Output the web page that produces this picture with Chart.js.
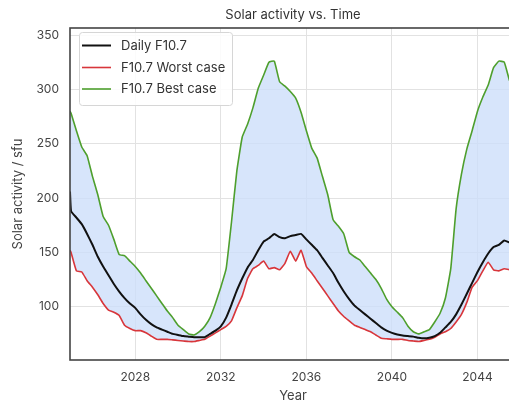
<!DOCTYPE html>
<html>
<head>
<meta charset="utf-8">
<script src="https://cdn.jsdelivr.net/npm/chart.js@4.4.1/dist/chart.umd.min.js"></script>
<style>
  html, body { margin: 0; padding: 0; background: #fff; overflow: hidden; }
  #wrap { width: 516px; height: 404px; }
</style>
</head>
<body>
<div id="wrap"><canvas id="chart" width="516" height="404"></canvas></div>
<script>
// --- Data (quarterly samples) ---
const years = [2024.95].concat(Array.from({ length: 84 }, (_, i) => 2025 + i * 0.25));

const dailyF107 = [206,
  188, 182, 176, 167,   157, 146, 137, 129,   121, 114, 108, 103,   99, 93, 88, 84,
  81, 79, 77, 75,       74, 73, 72.5, 72,     72, 72, 75, 78,       82, 90, 102, 115,
  126, 136, 143, 152,   160, 163, 167, 164,   163, 165, 166, 167,   162, 157, 152, 145,
  138, 131, 122, 114,   107, 101, 97, 93,     89, 85, 81, 78,       76, 74.5, 73.5, 73,
  72.5, 71.5, 71, 71.5, 73, 76, 81, 86,       93, 102, 112, 122,    132, 141, 149, 155,
  157, 161, 159, 158];

const worstCase = [152,
  150, 133, 132, 124,   118, 111, 103, 97,    95, 92, 83, 80,       78, 78, 76, 73,
  70, 70, 70, 69.5,     69, 68.5, 68, 68,     69, 70, 73, 76,       79, 82, 87, 99,
  110, 126, 135, 138,   142, 135, 136, 134,   140, 151, 142, 152,   137, 131, 124, 117,
  110, 103, 96, 91,     87, 83, 81, 79,       77, 74, 71, 70.5,     70, 70, 70, 69,
  68.5, 68, 69, 70,     72, 75, 77, 80,       86, 93, 104, 118,     124, 133, 141, 134,
  133, 135, 134, 133];

const bestCase = [280,
  278, 262, 247, 239,   220, 203, 183, 175,   162, 148, 147, 142,   137, 131, 124, 117,
  110, 103, 96, 90,     83, 79, 75, 74,       77, 82, 90, 103,      118, 135, 178, 225,
  256, 268, 283, 301,   313, 325, 326, 307,   303, 298, 292, 279,   262, 246, 237, 220,
  203, 180, 174, 167,   150, 146, 143, 137,   131, 125, 117, 107,   100, 95, 90, 82,
  77, 75, 77, 79,       86, 94, 108, 135,     190, 222, 245, 262,   280, 293, 304, 320,
  326, 325, 308, 300];

const xTicks = [2028, 2032, 2036, 2040, 2044];
const yTicks = [100, 150, 200, 250, 300, 350];
const seriesLabels = ['Daily F10.7', 'F10.7 Worst case', 'F10.7 Best case'];

// --- Styling ---
const FONT = 'Inter, "DejaVu Sans", sans-serif';
const colors = { daily: '#111111', worst: '#d8363b', best: '#4e9f2d', band: 'rgba(205,222,250,0.8)' };
const toPoints = (vals) => vals.map((v, i) => ({ x: years[i], y: v }));

// title, frame and legend box drawn by hand
const decorations = {
  id: 'decorations',
  afterDatasetsDraw(chart) {
    const { ctx, chartArea: a } = chart;
    ctx.save();
    ctx.strokeStyle = '#444';
    ctx.lineWidth = 1.6;
    ctx.strokeRect(a.left, a.top, a.right - a.left, a.bottom - a.top);

    // legend
    ctx.fillStyle = 'rgba(255,255,255,0.85)';
    ctx.strokeStyle = '#d6d6d6';
    ctx.lineWidth = 1;
    ctx.beginPath();
    ctx.roundRect(79.5, 32.5, 153, 73, 3);
    ctx.fill();
    ctx.stroke();
    const rows = [[colors.daily, 45.5], [colors.worst, 67.5], [colors.best, 89]];
    ctx.font = '13px ' + FONT;
    ctx.textBaseline = 'middle';
    rows.forEach(([c, y], i) => {
      ctx.strokeStyle = c;
      ctx.lineWidth = i === 0 ? 2 : 1.6;
      ctx.beginPath();
      ctx.moveTo(82, y);
      ctx.lineTo(111, y);
      ctx.stroke();
      ctx.fillStyle = '#333';
      ctx.fillText(seriesLabels[i], 121, y + 0.5);
    });
    ctx.restore();
  },
  afterDraw(chart) {
    const { ctx, chartArea: a } = chart;
    ctx.save();
    ctx.font = '13px ' + FONT;
    ctx.fillStyle = '#333';
    ctx.textAlign = 'center';
    ctx.textBaseline = 'middle';
    ctx.fillText('Solar activity vs. Time', (a.left + a.right) / 2, 15);
    ctx.restore();
  }
};

new Chart(document.getElementById('chart'), {
  type: 'line',
  data: {
    datasets: [
      { label: seriesLabels[0], data: toPoints(dailyF107), borderColor: colors.daily, borderWidth: 2, fill: false },
      { label: seriesLabels[1], data: toPoints(worstCase), borderColor: colors.worst, borderWidth: 1.6, fill: false },
      { label: seriesLabels[2], data: toPoints(bestCase), borderColor: colors.best, borderWidth: 1.6,
        fill: { target: 1 }, backgroundColor: colors.band }
    ]
  },
  options: {
    responsive: false,
    animation: false,
    layout: { padding: { top: 28, right: 0, left: 0, bottom: 0 } },
    elements: { point: { radius: 0 }, line: { tension: 0.12, borderJoinStyle: 'round' } },
    plugins: { legend: { display: false }, tooltip: { enabled: false }, title: { display: false } },
    scales: {
      x: {
        type: 'linear', min: 2024.95, max: 2045.8,
        afterFit: (s) => { s.height = 44; },
        afterBuildTicks: (s) => { s.ticks = xTicks.map(v => ({ value: v })); },
        grid: { color: '#e2e2e2', drawTicks: false },
        border: { display: false },
        ticks: { color: '#444', font: { family: FONT, size: 12 }, padding: 10, callback: (v) => String(v) },
        title: { display: true, text: 'Year', color: '#444', font: { family: FONT, size: 13 }, padding: { top: 0, bottom: 0 } }
      },
      y: {
        min: 51, max: 356.5,
        afterFit: (s) => { s.width = 70; },
        afterBuildTicks: (s) => { s.ticks = yTicks.map(v => ({ value: v })); },
        grid: { color: '#e2e2e2', drawTicks: false },
        border: { display: false },
        ticks: { color: '#444', font: { family: FONT, size: 12 }, padding: 11 },
        title: { display: true, text: 'Solar activity / sfu', color: '#444', font: { family: FONT, size: 13 }, padding: { top: 10, bottom: 0 } }
      }
    }
  },
  plugins: [decorations]
});
</script>
</body>
</html>
